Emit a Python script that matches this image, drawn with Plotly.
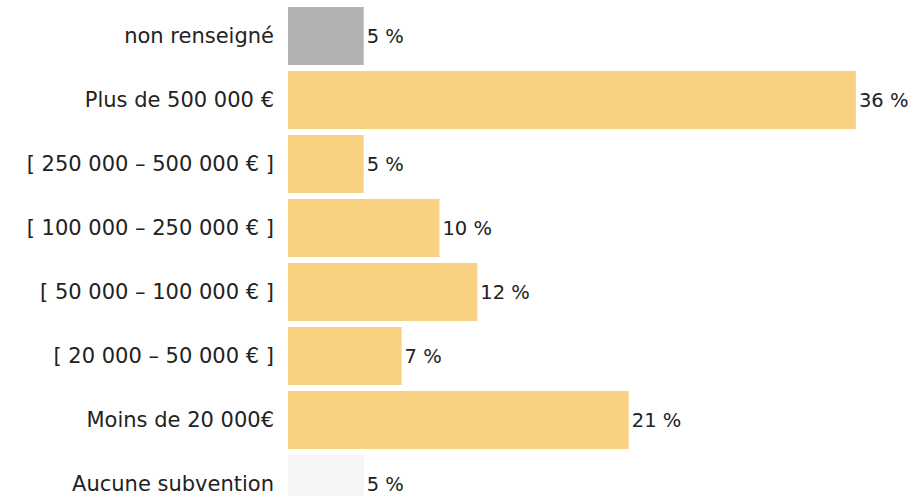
import plotly.graph_objects as go

# categories bottom -> top
categories = [
    "Aucune subvention",
    "Moins de 20 000€",
    "[ 20 000 – 50 000 € ]",
    "[ 50 000 – 100 000 € ]",
    "[ 100 000 – 250 000 € ]",
    "[ 250 000 – 500 000 € ]",
    "Plus de 500 000 €",
    "non renseigné",
]
values = [4.8, 21.6, 7.2, 12.0, 9.6, 4.8, 36.0, 4.8]
labels = ["5 %", "21 %", "7 %", "12 %", "10 %", "5 %", "36 %", "5 %"]
colors = ["#F5F5F5", "#F9D183", "#F9D183", "#F9D183",
          "#F9D183", "#F9D183", "#F9D183", "#B2B2B2"]

FONT = "DejaVu Sans"

fig = go.Figure()
fig.add_trace(go.Bar(
    y=categories,
    x=values,
    orientation="h",
    marker=dict(color=colors, line=dict(width=0)),
    text=labels,
    textposition="outside",
    textfont=dict(family=FONT, size=19.5, color="#222222"),
    cliponaxis=False,
    hoverinfo="skip",
))

fig.update_layout(
    width=923,
    height=496,
    margin=dict(l=288, r=4, t=4, b=0),
    paper_bgcolor="white",
    plot_bgcolor="white",
    bargap=0.094,
    showlegend=False,
    font=dict(family=FONT, size=20, color="#222222"),
    xaxis=dict(range=[0, 40], visible=False, fixedrange=True),
    yaxis=dict(
        categoryorder="array",
        categoryarray=categories,
        range=[-0.1875, 7.5],
        showgrid=False,
        zeroline=False,
        showline=False,
        ticks="",
        ticklabelstandoff=13,
        tickfont=dict(family=FONT, size=21, color="#222222"),
        fixedrange=True,
    ),
)

# drop the default body margin so the figure sits at the window's corner
fig.write_html(
    "out.html",
    config={"displayModeBar": False},
    post_script="document.body.style.margin='0';",
)
